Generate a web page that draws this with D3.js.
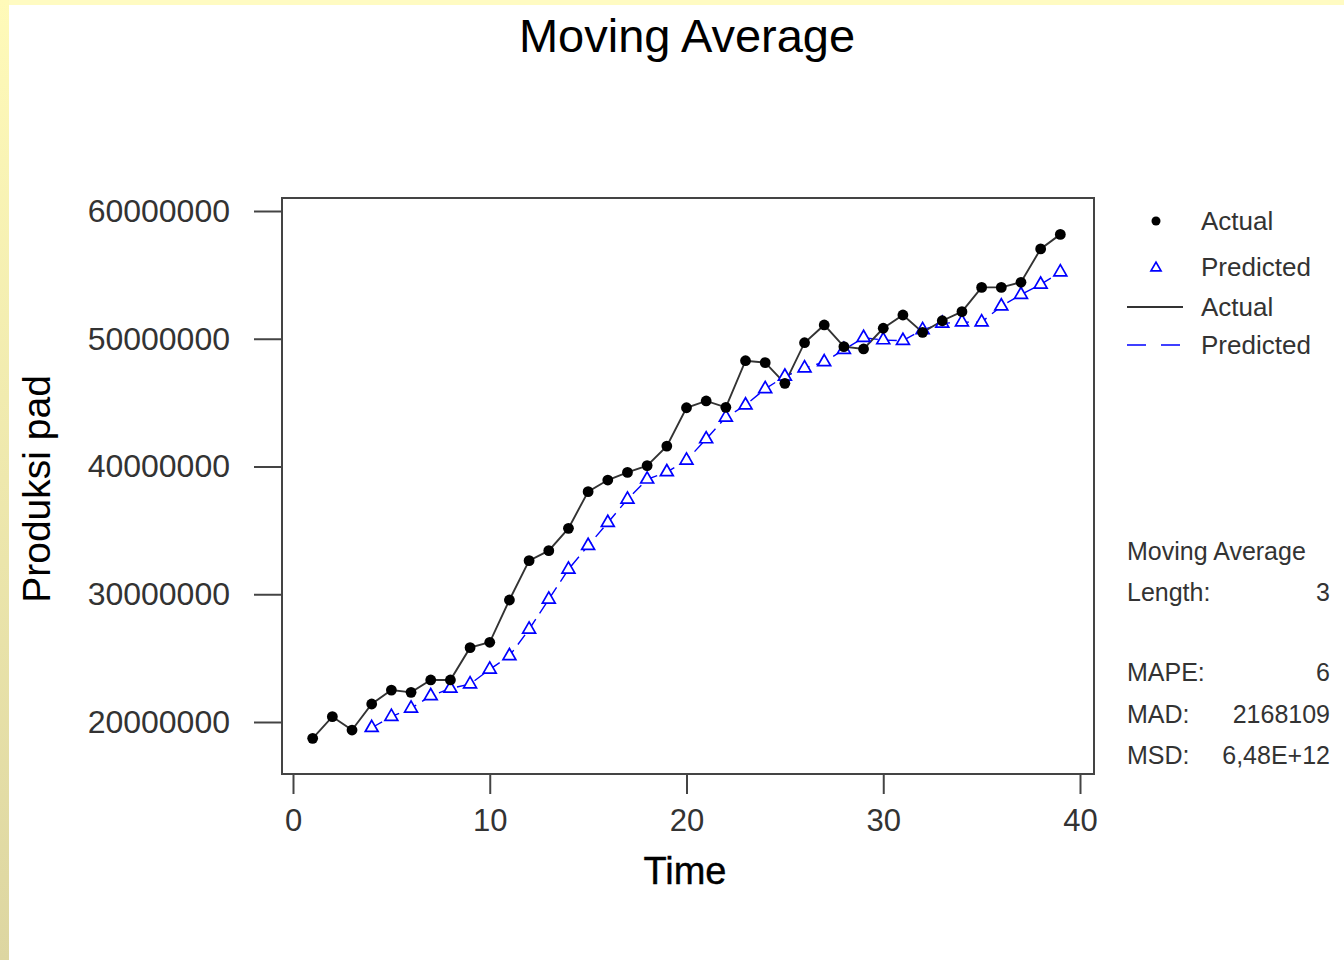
<!DOCTYPE html>
<html>
<head>
<meta charset="utf-8">
<script src="https://cdn.jsdelivr.net/npm/d3@7"></script>
<style>
  html, body { margin: 0; padding: 0; background: #fff; }
  svg { display: block; font-family: Arial, "Liberation Sans", sans-serif; }
</style>
</head>
<body>
<div id="chart"></div>
<script>
'use strict';

// time index 1..39
let time = d3.range(1, 40);

// actual production
let actual = [
    18.72e6, 20.42e6, 19.37e6, 21.41e6, 22.50e6, 22.32e6, 23.29e6, 23.29e6, 25.82e6, 26.24e6,
    29.55e6, 32.63e6, 33.41e6, 35.16e6, 38.03e6, 38.94e6, 39.54e6, 40.07e6, 41.60e6, 44.60e6,
    45.13e6, 44.63e6, 48.28e6, 48.13e6, 46.51e6, 49.69e6, 51.08e6, 49.38e6, 49.20e6, 50.82e6,
    51.86e6, 50.50e6, 51.41e6, 52.12e6, 54.02e6, 54.02e6, 54.42e6, 57.03e6, 58.17e6
];

// predicted values start at t = 4
let predTime = d3.range(4, 40);
let predicted = [
    19.55e6, 20.42e6, 21.07e6, 22.04e6, 22.63e6, 22.97e6, 24.12e6, 25.17e6, 27.25e6, 29.60e6,
    31.95e6, 33.80e6, 35.60e6, 37.43e6, 39.00e6, 39.57e6, 40.48e6, 42.15e6, 43.85e6, 44.80e6,
    46.08e6, 47.05e6, 47.70e6, 48.18e6, 49.15e6, 50.08e6, 49.90e6, 49.85e6, 50.70e6, 51.20e6,
    51.30e6, 51.30e6, 52.55e6, 53.45e6, 54.25e6, 55.22e6
];

let xTicks = [0, 10, 20, 30, 40];
let yTicks = [20000000, 30000000, 40000000, 50000000, 60000000];

let legendLabels = ['Actual', 'Predicted', 'Actual', 'Predicted'];
let statLabels = ['Moving Average', 'Length:', '', 'MAPE:', 'MAD:', 'MSD:'];
let statValues = ['', '3', '', '6', '2168109', '6,48E+12'];

let width = 1344,
    height = 960;

let frame = { left: 282, top: 198, right: 1094, bottom: 774 };

let svg = d3.select('#chart').append('svg')
    .attr('width', width)
    .attr('height', height);

// yellow slide border
let defs = svg.append('defs');
let grad = defs.append('linearGradient')
    .attr('id', 'edge')
    .attr('x1', 0).attr('y1', 0).attr('x2', 0).attr('y2', 1);
grad.append('stop').attr('offset', '0%').attr('stop-color', '#fffab9');
grad.append('stop').attr('offset', '100%').attr('stop-color', '#ddd6a1');

svg.append('rect').attr('width', width).attr('height', height).attr('fill', '#fff');
svg.append('rect').attr('width', width).attr('height', 5).attr('fill', '#fffbc2');
svg.append('rect').attr('width', 9).attr('height', height).attr('fill', 'url(#edge)');

// scales
let x = d3.scaleLinear().domain([0, 40]).range([293, 1080]);
let y = d3.scaleLinear().domain([20000000, 60000000]).range([722, 211]);

// frame
svg.append('rect')
    .attr('x', frame.left)
    .attr('y', frame.top)
    .attr('width', frame.right - frame.left)
    .attr('height', frame.bottom - frame.top)
    .attr('fill', 'none')
    .attr('stroke', '#444')
    .attr('stroke-width', 2);

// axes
let xAxis = d3.axisBottom(x).tickValues(xTicks).tickSize(20).tickPadding(15).tickFormat(d3.format('d'));
let yAxis = d3.axisLeft(y).tickValues(yTicks).tickSize(28).tickPadding(24).tickFormat(d3.format('d'));

let gX = svg.append('g')
    .attr('transform', 'translate(0,' + frame.bottom + ')')
    .call(xAxis);
let gY = svg.append('g')
    .attr('transform', 'translate(' + frame.left + ',0)')
    .call(yAxis);

[gX, gY].forEach(function(g) {
    g.select('.domain').remove();
    g.selectAll('.tick line').attr('stroke', '#444').attr('stroke-width', 2);
    g.selectAll('.tick text')
        .attr('fill', '#333')
        .style('font-family', 'Arial, "Liberation Sans", sans-serif');
});
gX.selectAll('.tick text').style('font-size', '31px');
gY.selectAll('.tick text').style('font-size', '32px');

// titles
svg.append('text')
    .attr('x', 687).attr('y', 52)
    .attr('text-anchor', 'middle')
    .style('font-size', '47px')
    .attr('fill', '#000')
    .text('Moving Average');

svg.append('text')
    .attr('x', 685).attr('y', 884)
    .attr('text-anchor', 'middle')
    .style('font-size', '38px')
    .style('stroke', '#000')
    .style('stroke-width', 0.4)
    .attr('fill', '#000')
    .text('Time');

svg.append('text')
    .attr('transform', 'translate(50,489) rotate(-90)')
    .attr('text-anchor', 'middle')
    .style('font-size', '39px')
    .attr('fill', '#000')
    .text('Produksi pad');

// lines
let actualData = time.map(function(t, i) { return { t: t, v: actual[i] }; });
let predData = predTime.map(function(t, i) { return { t: t, v: predicted[i] }; });

let line = d3.line()
    .x(function(d) { return x(d.t); })
    .y(function(d) { return y(d.v); });

svg.append('path')
    .datum(predData)
    .attr('d', line)
    .attr('fill', 'none')
    .attr('stroke', '#0000ff')
    .attr('stroke-width', 1.4)
    .attr('stroke-dasharray', '12,7');

svg.append('path')
    .datum(actualData)
    .attr('d', line)
    .attr('fill', 'none')
    .attr('stroke', '#333')
    .attr('stroke-width', 1.9);

let tri = d3.symbol().type(d3.symbolTriangle).size(72);

svg.selectAll('path.pred')
    .data(predData)
    .enter().append('path')
    .attr('class', 'pred')
    .attr('d', tri)
    .attr('transform', function(d) { return 'translate(' + x(d.t) + ',' + y(d.v) + ')'; })
    .attr('fill', '#fff')
    .attr('stroke', '#0000ff')
    .attr('stroke-width', 1.7);

svg.selectAll('circle.act')
    .data(actualData)
    .enter().append('circle')
    .attr('class', 'act')
    .attr('r', 5.4)
    .attr('cx', function(d) { return x(d.t); })
    .attr('cy', function(d) { return y(d.v); })
    .attr('fill', '#000');

// legend
let legendY = [221, 267, 307, 345];
let lg = svg.append('g');
lg.selectAll('text')
    .data(legendLabels)
    .enter().append('text')
    .attr('x', 1201)
    .attr('y', function(d, i) { return legendY[i]; })
    .attr('dy', '0.35em')
    .style('font-size', '26px')
    .attr('fill', '#333')
    .text(function(d) { return d; });

lg.append('circle').attr('cx', 1156).attr('cy', legendY[0]).attr('r', 4.5).attr('fill', '#000');
lg.append('path')
    .attr('d', d3.symbol().type(d3.symbolTriangle).size(44))
    .attr('transform', 'translate(1156,' + (legendY[1] + 1) + ')')
    .attr('fill', '#fff')
    .attr('stroke', '#0000ff')
    .attr('stroke-width', 1.7);
lg.append('line')
    .attr('x1', 1127).attr('x2', 1183)
    .attr('y1', legendY[2]).attr('y2', legendY[2])
    .attr('stroke', '#333').attr('stroke-width', 1.8);
lg.append('line')
    .attr('x1', 1127).attr('x2', 1183)
    .attr('y1', legendY[3]).attr('y2', legendY[3])
    .attr('stroke', '#0000ff').attr('stroke-width', 1.7)
    .attr('stroke-dasharray', '19,15');

// accuracy stats
let statY = [551, 592, 632, 672, 714, 755];
let st = svg.append('g');
st.selectAll('text.lab')
    .data(statLabels)
    .enter().append('text')
    .attr('class', 'lab')
    .attr('x', 1127)
    .attr('y', function(d, i) { return statY[i]; })
    .attr('dy', '0.35em')
    .style('font-size', '25px')
    .attr('fill', '#333')
    .text(function(d) { return d; });
st.selectAll('text.val')
    .data(statValues)
    .enter().append('text')
    .attr('class', 'val')
    .attr('x', 1330)
    .attr('y', function(d, i) { return statY[i]; })
    .attr('dy', '0.35em')
    .attr('text-anchor', 'end')
    .style('font-size', '25px')
    .attr('fill', '#333')
    .text(function(d) { return d; });
</script>
</body>
</html>
